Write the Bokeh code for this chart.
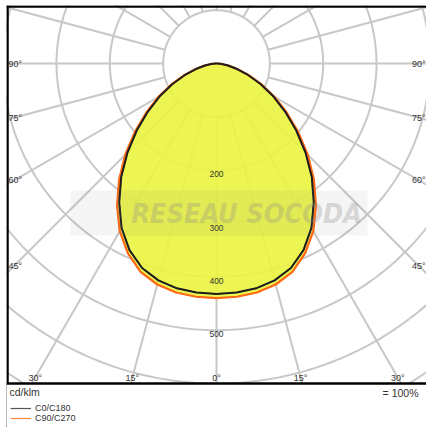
import numpy as np
from bokeh.plotting import figure
from bokeh.core.properties import value
from bokeh.models import Range1d, Label, Span, Legend, LegendItem, BoxAnnotation, ColumnDataSource
from bokeh.embed import file_html
from bokeh.resources import INLINE

# ---- data (cd/klm) ----
angles = [0, 5, 10, 15, 20, 25, 30, 35, 40, 45, 50, 55, 60, 65, 70, 75, 80, 85, 90]
c0_c180 = [432, 431, 428, 421, 408, 386, 356, 318, 278, 236, 195, 157, 123, 91, 63, 40, 22, 10, 2]
c90_c270 = [440, 439, 436, 429, 416, 393, 363, 325, 284, 242, 200, 161, 126, 94, 65, 41, 23, 10, 2]
ring_values = [100, 200, 300, 400, 500, 600, 700, 800]
ring_label_values = [200, 300, 400, 500]
side_label_angles = [90, 75, 60, 45]
bottom_label_angles = [-30, -15, 0, 15, 30]
series_names = ["C0/C180", "C90/C270"]
unit_text = "cd/klm"
scale_text = "= 100%"

# ---- layout ----
W, H = 426, 427
BL, BT = 6, 5                # left / top border of the frame (px)
px = 1.875                   # data units per pixel
CX, CY = 216, 63             # pole position on the page (px)
BOTTOM_Y = 383               # page y of the frame's bottom rule
X0, X1 = -(CX - BL) * px, (W - CX) * px
Y1, Y0 = (CY - BT) * px, -(H - CY) * px
YB = -(BOTTOM_Y - CY) * px   # bottom rule in data units

FONT = "Liberation Sans"
TXT = "#333333"
GRID = "#c8c8c8"

p = figure(width=W, height=H, x_range=Range1d(X0, X1), y_range=Range1d(Y0, Y1),
           output_backend="svg", toolbar_location=None, x_axis_type=None, y_axis_type=None,
           min_border_left=BL, min_border_right=0, min_border_top=BT, min_border_bottom=0,
           background_fill_color="white", border_fill_color="white")
p.grid.visible = False
p.outline_line_color = None


def polar(r, th):
    t = np.radians(th)
    return np.asarray(r) * np.sin(t), -np.asarray(r) * np.cos(t)


# grid rings
full = np.arange(0, 361, 1)
rx, ry = [], []
for r in ring_values:
    x, y = polar(np.full(full.shape, r), full)
    rx.append(list(x)); ry.append(list(y))
p.multi_line(rx, ry, line_color=GRID, line_width=2)

# spokes every 15 degrees, from the 100 ring outwards
sx, sy = [], []
for a in range(0, 360, 15):
    x, y = polar([ring_values[0], 1200], [a, a])
    sx.append(list(x)); sy.append(list(y))
p.multi_line(sx, sy, line_color=GRID, line_width=2)


def closed_curve(vals):
    th = np.array(angles, dtype=float)
    v = np.array(vals, dtype=float)
    xr, yr = polar(v, th)
    xl, yl = polar(v[::-1], -th[::-1])
    return np.concatenate([xr, xl]), np.concatenate([yr, yl])


ox, oy = closed_curve(c90_c270)
bx, by = closed_curve(c0_c180)

p.patch(ox, oy, fill_color="#eaf43e", fill_alpha=0.9, line_color=None)

# thin legend keys, hidden under the thicker curves
k_orange = p.line(ox, oy, line_color="#ff8a3c", line_width=1.2)
k_black = p.line(bx, by, line_color="#555555", line_width=1.2)

r_orange = p.line(ox, oy, line_color="#ff6a13", line_width=2.2)
r_black = p.line(bx, by, line_color="#1e1e1e", line_width=2)

# ring value labels
lab_src = ColumnDataSource(dict(x=[0] * len(ring_label_values),
                                y=[-v - 4 * px for v in ring_label_values],
                                t=[str(v) for v in ring_label_values]))
p.text("x", "y", text="t", source=lab_src, text_align="center", text_baseline="middle",
       text_font_size="8.5px", text_color=TXT, text_font=value(FONT))

# side angle labels
dist = -X0 - 8 * px
sl_y = [-dist * np.cos(np.radians(a)) / np.sin(np.radians(a)) for a in side_label_angles]
sl_t = [f"{a}°" for a in side_label_angles]
p.text([X0 + 2 * px] * len(sl_y), sl_y, text=sl_t, text_align="left", text_baseline="middle",
       text_font_size="9px", text_color=TXT, text_font=value(FONT))
p.text([X1 - 1 * px] * len(sl_y), sl_y, text=sl_t, text_align="right", text_baseline="middle",
       text_font_size="9px", text_color=TXT, text_font=value(FONT))

# bottom angle labels
yb = YB + 6 * px
bl_x = [-yb * np.tan(np.radians(a)) for a in bottom_label_angles]
bl_t = [f"{abs(a)}°" for a in bottom_label_angles]
p.text(bl_x, [yb] * len(bl_x), text=bl_t, text_align="center", text_baseline="middle",
       text_font_size="9px", text_color=TXT, text_font=value(FONT))

# watermark
p.add_layout(BoxAnnotation(left=(70 - CX) * px, right=(367 - CX) * px,
                           top=-(190 - CY) * px, bottom=-(235 - CY) * px,
                           fill_color="#808080", fill_alpha=0.08, line_color=None))
p.add_layout(Label(x=(246 - CX) * px, y=-(213 - CY) * px, text="RESEAU SOCODA",
                   text_align="center", text_baseline="middle",
                   text_font="DejaVu Sans Condensed", text_font_style="bold italic",
                   text_font_size="27px", text_color="#8a8a8a", text_alpha=0.3))

# frame: left and top rules, white area below the bottom rule, then the bottom rule
p.add_layout(Span(location=X0 + 1 * px, dimension="height", line_color="black", line_width=2.5))
p.add_layout(Span(location=Y1 - 1 * px, dimension="width", line_color="black", line_width=2.5))
p.add_layout(BoxAnnotation(top=YB, fill_color="white", fill_alpha=1.0, line_color=None))
p.add_layout(Span(location=YB, dimension="width", line_color="black", line_width=2.5))

# texts below the frame
p.add_layout(Label(x=X0 + 3 * px, y=YB - 8 * px, text=unit_text, text_align="left",
                   text_baseline="middle", text_font_size="10.5px", text_color=TXT, text_font=FONT))
p.add_layout(Label(x=X1 - 8 * px, y=YB - 9 * px, text=scale_text, text_align="right",
                   text_baseline="middle", text_font_size="10.5px", text_color=TXT, text_font=FONT))

legend = Legend(items=[LegendItem(label=series_names[0], renderers=[k_black]),
                       LegendItem(label=series_names[1], renderers=[k_orange])],
                location=(4, 4), orientation="vertical", padding=0, margin=0, spacing=0,
                glyph_width=21, glyph_height=10, label_height=10, label_standoff=4,
                label_text_font_size="9px", label_text_color=TXT, label_text_font=FONT,
                border_line_color=None, background_fill_alpha=0)
p.add_layout(legend, "center")

open("out.html", "w").write(file_html(p, INLINE))
